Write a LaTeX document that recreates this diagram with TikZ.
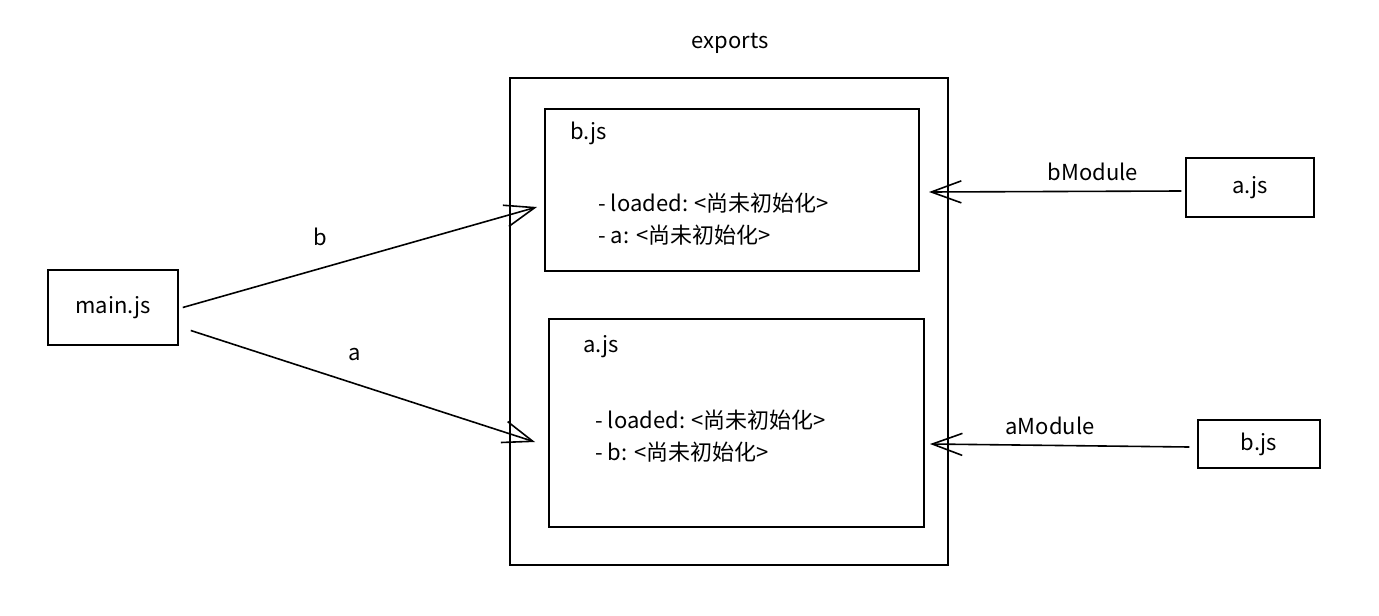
\documentclass[tikz,border=0pt]{standalone}
\usepackage{fontspec}
\setmainfont{Noto Sans CJK SC}
\usetikzlibrary{arrows.meta}

\begin{document}
\begin{tikzpicture} [
                % one unit is one pixel of the sketch, y grows downwards
                x=0.5pt, y=-0.5pt,
                font=\fontsize{11}{13}\selectfont,
                box/.style = {draw,line width=0.75pt,inner sep=0pt},
                field/.style = {anchor=west,inner sep=0pt},
                tag/.style = {inner sep=0pt},
                link/.style = {draw,line width=0.8pt,-{Straight Barb[length=15pt,width=11pt,line width=0.8pt]}}
            ]
            \useasboundingbox (0,0) rectangle (1379,615);
            % First we draw the boxes
            \node[box, minimum width=219pt, minimum height=243.5pt] (exports) at (729,321.5) {};
            \node[tag] (exportsname) at (730,43) {exports};
            \node[box, minimum width=187pt, minimum height=81pt] (bbox) at (732,190) {};
            \node[box, minimum width=187.5pt, minimum height=104pt] (abox) at (736.5,423) {};
            \node[box, minimum width=65pt, minimum height=37.5pt] (main) at (113,307.5) {main.js};
            \node[box, minimum width=64pt, minimum height=29.5pt] (ajs) at (1250,187.5) {a.js};
            \node[box, minimum width=61pt, minimum height=24pt] (bjs) at (1259,444) {b.js};
            % the fields of both modules
            \foreach \pos/\name/\text in {
                {(570,133)/bname/b.js}, {(598,203)/bloaded/{- loaded: <尚未初始化>}}, {(598,235)/bfield/{- a: <尚未初始化>}},
                {(583,347)/aname/a.js}, {(595,420)/aloaded/{- loaded: <尚未初始化>}}, {(595,452)/afield/{- b: <尚未初始化>}}}
                \node[field] (\name) at \pos {\text};
            % arrow ends, just before the inner boxes
            \coordinate (btip) at (537,207);
            \coordinate (atip) at (535,442);
            \coordinate (bin) at (929,192);
            \coordinate (ain) at (930,444);
            % Connect the boxes and write the names
            \path[link] ([xshift=2pt]main.east) -- (btip);
            \path[link] ([xshift=6pt,yshift=-11.5pt]main.east) -- (atip);
            \path[link] ([xshift=-2pt,yshift=-1.75pt]ajs.west) -- (bin);
            \path[link] ([xshift=-4pt,yshift=-1.5pt]bjs.west) -- (ain);
            \foreach \pos/\name/\text in {
                {(320,237)/blabel/b}, {(355,355)/alabel/a}, {(1093,172)/bmodule/bModule}, {(1050,426)/amodule/aModule}}
                \node[tag] (\name) at \pos {\text};
        \end{tikzpicture}
\end{document}
